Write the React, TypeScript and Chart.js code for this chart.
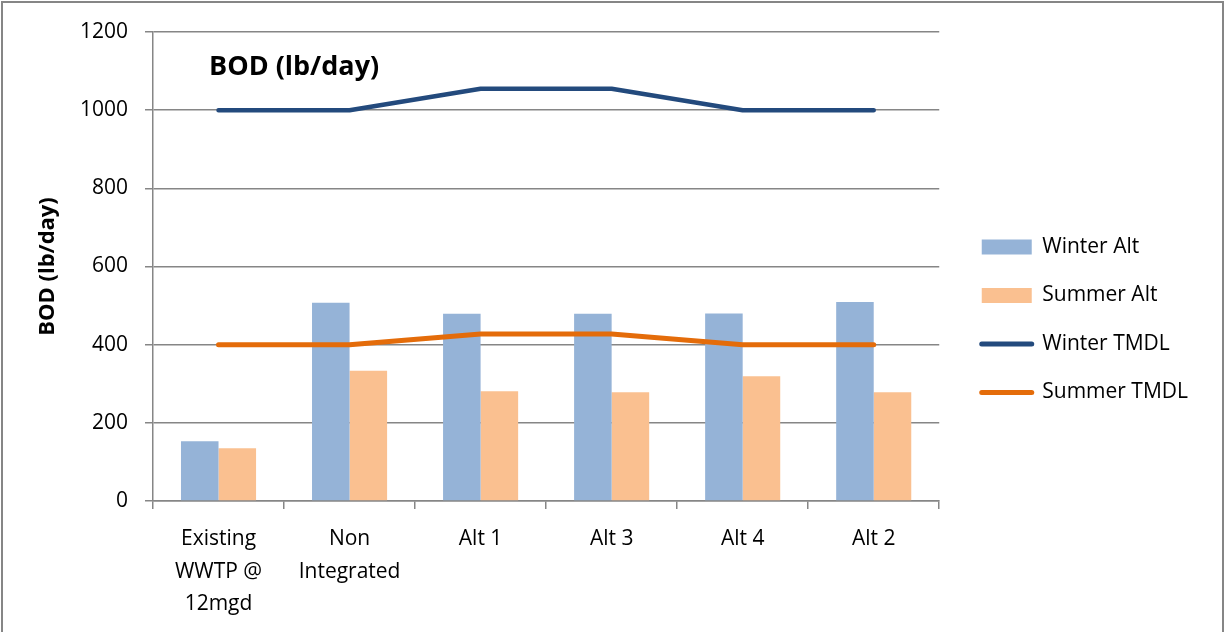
import React, { useEffect, useRef } from "react";
import { Chart, registerables } from "chart.js";

Chart.register(...registerables);

const categories: (string | string[])[] = [
  ["Existing", "WWTP @", "12mgd"],
  ["Non", "Integrated"],
  "Alt 1",
  "Alt 3",
  "Alt 4",
  "Alt 2",
];
const winterAlt = [153, 507, 479, 479, 480, 509];
const summerAlt = [135, 333, 281, 278, 319, 278];
const winterTMDL = [1000, 1000, 1055, 1055, 1000, 1000];
const summerTMDL = [400, 400, 427, 427, 400, 400];
const yMin = 0;
const yMax = 1200;
const yStep = 200;
const chartTitle = "BOD (lb/day)";
const yAxisTitle = "BOD (lb/day)";

const FONT = "'Open Sans', sans-serif";
const GRID = "#868686";

const titlePlugin = {
  id: "innerTitle",
  afterDraw(chart: any) {
    const ctx = chart.ctx;
    ctx.save();
    ctx.font = `bold 27px ${FONT}`;
    ctx.fillStyle = "#000";
    ctx.textBaseline = "middle";
    ctx.textAlign = "left";
    ctx.fillText(chartTitle, 209, 67);
    ctx.restore();
  },
};

const borderPlugin = {
  id: "outerBorder",
  beforeDraw(chart: any) {
    const ctx = chart.ctx;
    ctx.save();
    ctx.fillStyle = "#fff";
    ctx.fillRect(0, 0, chart.width, chart.height);
    ctx.strokeStyle = GRID;
    ctx.lineWidth = 2;
    ctx.beginPath();
    ctx.moveTo(2, 700);
    ctx.lineTo(2, 2);
    ctx.lineTo(1223, 2);
    ctx.lineTo(1223, 700);
    ctx.stroke();
    ctx.restore();
  },
};

export default function App() {
  const ref = useRef<HTMLCanvasElement | null>(null);

  useEffect(() => {
    document.body.style.margin = "0";
    if (!ref.current) return;
    const chart = new Chart(ref.current, {
      type: "bar",
      data: {
        labels: categories,
        datasets: [
          {
            type: "bar",
            label: "Winter Alt",
            data: winterAlt,
            backgroundColor: "#95B3D7",
            borderWidth: 0,
            categoryPercentage: 0.573,
            barPercentage: 1,
            order: 1,
          },
          {
            type: "bar",
            label: "Summer Alt",
            data: summerAlt,
            backgroundColor: "#FAC090",
            borderWidth: 0,
            categoryPercentage: 0.573,
            barPercentage: 1,
            order: 1,
          },
          {
            type: "line",
            label: "Winter TMDL",
            data: winterTMDL,
            borderColor: "#234A7D",
            backgroundColor: "#234A7D",
            borderWidth: 4.5,
            pointRadius: 0,
            tension: 0,
            borderCapStyle: "round",
            borderJoinStyle: "round",
            fill: false,
            order: 0,
          },
          {
            type: "line",
            label: "Summer TMDL",
            data: summerTMDL,
            borderColor: "#E46C0A",
            backgroundColor: "#E46C0A",
            borderWidth: 5,
            pointRadius: 0,
            tension: 0,
            borderCapStyle: "round",
            borderJoinStyle: "round",
            fill: false,
            order: 0,
          },
        ],
      } as any,
      options: {
        responsive: false,
        animation: false,
        devicePixelRatio: 1,
        layout: { padding: { top: 32, left: 0, right: 27, bottom: 0 } },
        scales: {
          x: {
            offset: true,
            ticks: {
              font: { family: FONT, size: 21, lineHeight: 1.55 },
              color: "#000",
              padding: 14,
              maxRotation: 0,
              autoSkip: false,
            },
            grid: {
              display: true,
              drawOnChartArea: false,
              drawTicks: true,
              tickLength: 8,
              color: GRID,
              lineWidth: 1.5,
              offset: true,
            },
            border: { color: GRID, width: 1.5 },
            afterFit: (s: any) => {
              s.height = 131;
            },
          },
          y: {
            min: yMin,
            max: yMax,
            ticks: {
              stepSize: yStep,
              font: { family: FONT, size: 21 },
              color: "#000",
              padding: 17,
              callback: (v: any) => String(v),
            },
            grid: {
              color: GRID,
              lineWidth: 1.5,
              tickLength: 8,
              drawTicks: true,
            },
            border: { color: GRID, width: 1.5 },
            title: {
              display: true,
              text: yAxisTitle,
              font: { family: FONT, size: 22, weight: "bold" },
              color: "#000",
              padding: { top: 35, bottom: 0 },
            },
            afterFit: (s: any) => {
              s.width = 153;
            },
          },
          spacer: {
            type: "linear",
            position: "right",
            display: true,
            grid: { display: false, drawTicks: false },
            ticks: { display: false },
            border: { display: false },
            afterFit: (s: any) => {
              s.width = 15;
            },
          },
        },
        plugins: {
          tooltip: { enabled: false },
          legend: {
            position: "right",
            align: "start",
            maxWidth: 400,
            title: {
              display: true,
              text: " ",
              font: { family: FONT, size: 10 },
              padding: { top: 165, bottom: 0 },
            },
            labels: {
              font: { family: FONT, size: 21 },
              color: "#000",
              usePointStyle: true,
              pointStyleWidth: 50,
              boxWidth: 50,
              boxHeight: 15,
              padding: 27.5,
              generateLabels: (c: any) =>
                c.data.datasets.map((ds: any, i: number) => {
                  const isLine = ds.type === "line";
                  return {
                    text: ds.label,
                    fillStyle: ds.backgroundColor,
                    strokeStyle: isLine ? ds.borderColor : ds.backgroundColor,
                    lineWidth: isLine ? 5 : 0,
                    lineCap: "round",
                    pointStyle: isLine ? "line" : "rect",
                    fontColor: "#000",
                    hidden: false,
                    datasetIndex: i,
                  };
                }),
            },
          },
        },
      } as any,
      plugins: [borderPlugin, titlePlugin],
    });
    return () => chart.destroy();
  }, []);

  return (
    <div style={{ width: 1225, height: 632 }}>
      <canvas ref={ref} width={1225} height={632} style={{ display: "block" }} />
    </div>
  );
}
